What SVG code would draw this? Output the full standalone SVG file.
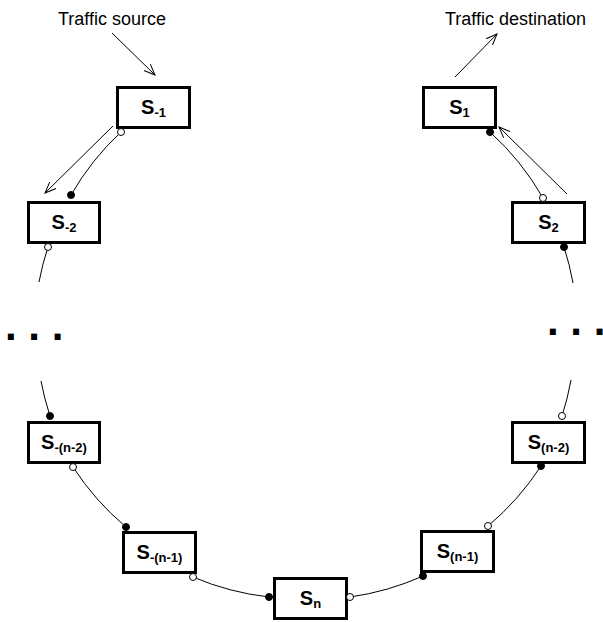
<svg xmlns="http://www.w3.org/2000/svg" width="603" height="622" viewBox="0 0 603 622">
  <defs>
    <style>
      .box { fill: #fff; stroke: #000; stroke-width: 3; }
      .lbl { font-family: "Liberation Sans", Arial, sans-serif; font-weight: bold; font-size: 20px; fill: #000; text-anchor: middle; }
      .sub { font-size: 13px; }
      .cap { font-family: "Liberation Sans", Arial, sans-serif; font-size: 18px; fill: #000; }
      .dots { font-family: "Liberation Sans", Arial, sans-serif; font-weight: bold; font-size: 42px; fill: #000; }
      .wire { fill: none; stroke: #000; stroke-width: 1; }
      .arrow { fill: none; stroke: #000; stroke-width: 1; marker-end: url(#vhead); }
      .open { fill: #fff; stroke: #000; stroke-width: 1; }
      .full { fill: #000; stroke: #000; stroke-width: 1; }
    </style>
    <marker id="vhead" markerUnits="userSpaceOnUse" markerWidth="13" markerHeight="12" refX="11" refY="6" orient="auto" viewBox="0 0 13 12">
      <path d="M0,1.5 L11,6 L0,10.5" fill="none" stroke="#000" stroke-width="1"/>
    </marker>
  </defs>

  <!-- captions -->
  <text class="cap" x="58" y="25">Traffic source</text>
  <text class="cap" x="445" y="25">Traffic destination</text>

  <!-- elided stations -->
  <text class="dots" x="5" y="340">. . .</text>
  <text class="dots" x="547" y="335">. . .</text>

  <!-- stations -->
  <g id="s-m1">
    <rect class="box" x="117.5" y="87.5" width="72" height="40"/>
    <text class="lbl" x="153.5" y="114">S<tspan class="sub" dy="3">-1</tspan></text>
  </g>
  <g id="s-m2">
    <rect class="box" x="28.5" y="202.5" width="71" height="40"/>
    <text class="lbl" x="64" y="229">S<tspan class="sub" dy="3">-2</tspan></text>
  </g>
  <g id="s-m-n2">
    <rect class="box" x="28.5" y="422.5" width="71" height="40"/>
    <text class="lbl" x="64" y="449">S<tspan class="sub" dy="3">-(n-2)</tspan></text>
  </g>
  <g id="s-m-n1">
    <rect class="box" x="123.5" y="532.5" width="72" height="40"/>
    <text class="lbl" x="159.5" y="559">S<tspan class="sub" dy="3">-(n-1)</tspan></text>
  </g>
  <g id="s-n">
    <rect class="box" x="274.5" y="578.5" width="72" height="40"/>
    <text class="lbl" x="310.5" y="605">S<tspan class="sub" dy="3">n</tspan></text>
  </g>
  <g id="s-n1">
    <rect class="box" x="421.5" y="531.5" width="72" height="40"/>
    <text class="lbl" x="457.5" y="558">S<tspan class="sub" dy="3">(n-1)</tspan></text>
  </g>
  <g id="s-n2">
    <rect class="box" x="512.5" y="422.5" width="72" height="40"/>
    <text class="lbl" x="548.5" y="449">S<tspan class="sub" dy="3">(n-2)</tspan></text>
  </g>
  <g id="s-2">
    <rect class="box" x="512.5" y="202.5" width="72" height="40"/>
    <text class="lbl" x="548.5" y="229">S<tspan class="sub" dy="3">2</tspan></text>
  </g>
  <g id="s-1">
    <rect class="box" x="423.5" y="87.5" width="72" height="40"/>
    <text class="lbl" x="459.5" y="114">S<tspan class="sub" dy="3">1</tspan></text>
  </g>

  <!-- connectors -->
  <g id="connectors">
    <!-- traffic path arrows -->
    <path class="arrow" d="M112,33 L155,75"/>
    <path class="arrow" d="M113,126 L45,193"/>
    <path class="arrow" d="M567,194 L499,127"/>
    <path class="arrow" d="M455,77 L497,34"/>

    <!-- ring segments -->
    <path class="wire" d="M121,132 A270,270 0 0 0 71,195"/>
    <path class="wire" d="M48,247 A270,270 0 0 0 39,282"/>
    <path class="wire" d="M41,381 A270,270 0 0 0 50,416"/>
    <path class="wire" d="M73,467 A270,270 0 0 0 126,527"/>
    <path class="wire" d="M193,577 A270,270 0 0 0 269,597"/>
    <path class="wire" d="M350,597 A270,270 0 0 0 423,576"/>
    <path class="wire" d="M488,526 A270,270 0 0 0 541,466"/>
    <path class="wire" d="M562,416 A270,270 0 0 0 571,380"/>
    <path class="wire" d="M573,283 A270,270 0 0 0 564,247"/>
    <path class="wire" d="M543,198 A270,270 0 0 0 490,132"/>

    <!-- port ends -->
    <circle class="open" cx="121" cy="132" r="3.5"/>
    <circle class="open" cx="48" cy="247" r="3.5"/>
    <circle class="open" cx="73" cy="467" r="3.5"/>
    <circle class="open" cx="193" cy="577" r="3.5"/>
    <circle class="open" cx="350" cy="597" r="3.5"/>
    <circle class="open" cx="488" cy="526" r="3.5"/>
    <circle class="open" cx="562" cy="416" r="3.5"/>
    <circle class="open" cx="543" cy="198" r="3.5"/>

    <circle class="full" cx="71" cy="195" r="3.5"/>
    <circle class="full" cx="50" cy="416" r="3.5"/>
    <circle class="full" cx="126" cy="527" r="3.5"/>
    <circle class="full" cx="269" cy="597" r="3.5"/>
    <circle class="full" cx="423" cy="576" r="3.5"/>
    <circle class="full" cx="541" cy="466" r="3.5"/>
    <circle class="full" cx="564" cy="247" r="3.5"/>
    <circle class="full" cx="490" cy="132" r="3.5"/>
  </g>
</svg>
